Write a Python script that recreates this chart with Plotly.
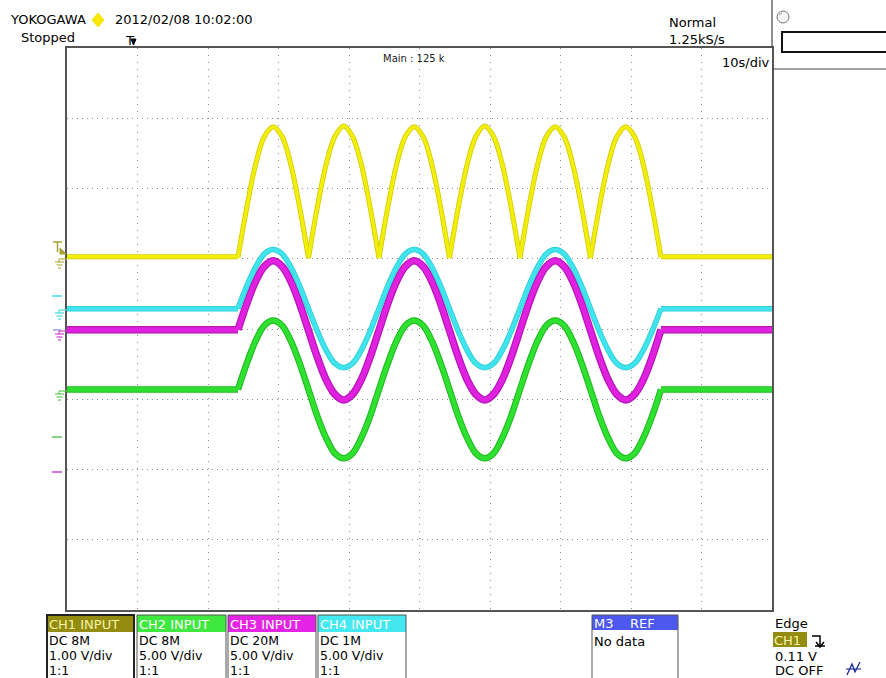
import plotly.graph_objects as go

W, H = 886, 678
L, R, T, B = 67, 772, 48, 610

def px(x):
    return (x - L) / (R - L)

def py(y):
    return (B - y) / (B - T)

# ---------------- data (time in s, value in divisions from centre) ----------------
t_start, t_end = 0.0, 100.0
t_wave = [24.25, 25.5, 26.75, 28.0, 29.25, 30.5, 31.75, 33.0, 34.25, 35.5, 36.75, 38.0,
          39.25, 40.5, 41.75, 43.0, 44.25, 45.5, 46.75, 48.0, 49.25, 50.5, 51.75, 53.0,
          54.25, 55.5, 56.75, 58.0, 59.25, 60.5, 61.75, 63.0, 64.25, 65.5, 66.75, 68.0,
          69.25, 70.5, 71.75, 73.0, 74.25, 75.5, 76.75, 78.0, 79.25, 80.5, 81.75, 83.0, 84.25]

ch1_base = 1.03
ch1_wave = [1.02, 1.73, 2.34, 2.74, 2.88, 2.74, 2.34, 1.73,
            1.01, 1.73, 2.34, 2.74, 2.89, 2.74, 2.34, 1.73,
            1.01, 1.73, 2.34, 2.74, 2.88, 2.74, 2.34, 1.73,
            1.01, 1.73, 2.34, 2.74, 2.89, 2.74, 2.34, 1.73,
            1.01, 1.73, 2.34, 2.74, 2.88, 2.74, 2.34, 1.73,
            1.01, 1.73, 2.34, 2.74, 2.88, 2.74, 2.34, 1.73, 1.02]

ch4_base = 0.29
ch4_wave = [0.29, 0.61, 0.88, 1.07, 1.13, 1.07, 0.88, 0.61,
            0.29, -0.03, -0.30, -0.49, -0.55, -0.49, -0.30, -0.03,
            0.29, 0.61, 0.88, 1.07, 1.13, 1.07, 0.88, 0.61,
            0.29, -0.03, -0.30, -0.49, -0.55, -0.49, -0.30, -0.03,
            0.29, 0.61, 0.88, 1.07, 1.13, 1.07, 0.88, 0.61,
            0.29, -0.03, -0.30, -0.49, -0.55, -0.49, -0.30, -0.03, 0.29]

ch3_base = -0.01
ch3_wave = [-0.01, 0.36, 0.68, 0.89, 0.97, 0.89, 0.68, 0.36,
            -0.02, -0.40, -0.72, -0.93, -1.01, -0.93, -0.72, -0.40,
            -0.02, 0.36, 0.68, 0.89, 0.97, 0.89, 0.68, 0.36,
            -0.02, -0.40, -0.72, -0.93, -1.01, -0.93, -0.72, -0.40,
            -0.02, 0.36, 0.68, 0.89, 0.97, 0.89, 0.68, 0.36,
            -0.02, -0.40, -0.72, -0.93, -1.01, -0.93, -0.72, -0.40, -0.01]

ch2_base = -0.86
ch2_wave = [-0.86, -0.49, -0.17, 0.05, 0.12, 0.05, -0.17, -0.49,
            -0.86, -1.24, -1.55, -1.77, -1.84, -1.77, -1.55, -1.24,
            -0.86, -0.49, -0.17, 0.05, 0.12, 0.05, -0.17, -0.49,
            -0.86, -1.24, -1.55, -1.77, -1.84, -1.77, -1.55, -1.24,
            -0.86, -0.49, -0.17, 0.05, 0.12, 0.05, -0.17, -0.49,
            -0.86, -1.24, -1.55, -1.77, -1.84, -1.77, -1.55, -1.24, -0.86]

ch_labels = ["CH1 INPUT", "CH2 INPUT", "CH3 INPUT", "CH4 INPUT"]
ch_coupling = ["DC 8M", "DC 8M", "DC 20M", "DC 1M"]
ch_vdiv = ["1.00 V/div", "5.00 V/div", "5.00 V/div", "5.00 V/div"]
ch_probe = ["1:1", "1:1", "1:1", "1:1"]

FONT = "DejaVu Sans"

fig = go.Figure()


def add_layers(x, y, under, top, wu, wt):
    fig.add_trace(go.Scatter(x=x, y=y, mode="lines", connectgaps=False,
                             line=dict(color=under, width=wu, shape="spline", smoothing=1),
                             hoverinfo="skip", showlegend=False))
    fig.add_trace(go.Scatter(x=x, y=y, mode="lines", connectgaps=False,
                             line=dict(color=top, width=wt, shape="spline", smoothing=1),
                             hoverinfo="skip", showlegend=False))


def sine_xy(base, wave):
    x = [t_start, t_wave[0], None] + t_wave + [None, t_wave[-1], t_end]
    y = [base, base, None] + wave + [None, base, base]
    return x, y


# CH2 green, CH3 magenta, CH4 cyan
x, y = sine_xy(ch2_base, ch2_wave)
add_layers(x, y, "#1cb81c", "#30e030", 6.5, 4.5)
x, y = sine_xy(ch3_base, ch3_wave)
add_layers(x, y, "#b814b8", "#e022e0", 7.5, 5)
x, y = sine_xy(ch4_base, ch4_wave)
add_layers(x, y, "#2acad4", "#40e4ec", 5.5, 4)

# CH1 yellow (rectified humps, split at each valley)
xs = [t_start, t_wave[0], None]
ys = [ch1_base, ch1_base, None]
for i in range(0, len(t_wave) - 1, 8):
    xs += t_wave[i:i + 9] + [None]
    ys += ch1_wave[i:i + 9] + [None]
xs += [t_wave[-1], t_end]
ys += [ch1_base, ch1_base]
add_layers(xs, ys, "#d2ca00", "#f0ee0a", 5, 3.5)

shapes = []


def line(x0, y0, x1, y1, color="#000", width=1):
    shapes.append(dict(type="line", xref="paper", yref="paper",
                       x0=px(x0), y0=py(y0), x1=px(x1), y1=py(y1),
                       line=dict(color=color, width=width), layer="above"))


def rect(x0, y0, x1, y1, fill=None, color="#000", width=1):
    shapes.append(dict(type="rect", xref="paper", yref="paper",
                       x0=px(x0), y0=py(y0), x1=px(x1), y1=py(y1),
                       fillcolor=fill if fill else "rgba(0,0,0,0)",
                       line=dict(color=color, width=width), layer="above"))


def path(points, color, width=1, fill=None, closed=False):
    d = "M" + " L".join(f"{px(a):.5f},{py(b):.5f}" for a, b in points)
    if closed:
        d += " Z"
    shapes.append(dict(type="path", xref="paper", yref="paper", path=d,
                       fillcolor=fill if fill else "rgba(0,0,0,0)",
                       line=dict(color=color, width=width), layer="above"))


def ground(y0, color):
    line(59, y0, 67, y0, color, 1.2)
    line(59, y0, 59, y0 + 3, color, 1.2)
    line(55, y0 + 3, 64, y0 + 3, color, 1.2)
    line(56.5, y0 + 6, 62.5, y0 + 6, color, 1.2)
    line(58, y0 + 9, 61, y0 + 9, color, 1.2)


# left channel markers
line(53, 242, 62, 242, "#a8a030", 1.5)
line(57.5, 242, 57.5, 252, "#a8a030", 1.5)
path([(60, 248), (66, 254), (60, 254)], "#a8a030", 1, fill="#a8a030", closed=True)
ground(259, "#b8b040")
line(52, 296, 62, 296, "#3ed8e2", 1.5)
ground(310, "#3ed8e2")
line(53, 330, 61, 330, "#8a8ae8", 1.2)
ground(331, "#d040d0")
ground(391, "#5cc85c")
line(52, 437, 62, 437, "#5cc85c", 1.5)
line(52, 472, 62, 472, "#d040d0", 1.5)

# top-right panel
line(772, 0, 772, 48, "#444", 1.2)
line(772, 69, 886, 69, "#444", 1.2)
rect(782, 32, 887, 52, None, "#111", 2)
shapes.append(dict(type="circle", xref="paper", yref="paper",
                   x0=px(777), y0=py(23), x1=px(789), y1=py(11),
                   line=dict(color="#777", width=1), fillcolor="#f4f4f4", layer="above"))
path([(779, 15), (782, 13)], "#999", 1)

# header diamond and trigger position marker
path([(98, 13), (104, 20), (98, 27), (92, 20)], "#f5e400", 1, fill="#f8e800", closed=True)
path([(131, 39), (136, 39), (133.5, 45)], "#000", 1, fill="#000", closed=True)

# bottom channel boxes
header_fill = ["#938c10", "#3ee83e", "#e424e4", "#44e8f0"]
header_text = ["#f6f2a8", "#ffffff", "#ffffff", "#ffffff"]
box_x = [(47, 134), (137, 226), (228, 316), (318, 406)]
for i, (x0, x1) in enumerate(box_x):
    rect(x0, 615, x1, 632, header_fill[i], header_fill[i], 0)
    rect(x0, 615, x1, 690, None, "#222" if i == 0 else "#555", 2 if i == 0 else 1)

rect(592, 615, 678, 630, "#4c58ee", "#4c58ee", 0)
rect(592, 615, 678, 690, None, "#555", 1)

# trigger info box
rect(773, 632, 807, 647, "#938c10", "#938c10", 0)
path([(812, 636), (820, 636), (820, 646)], "#000", 1.5)
path([(816, 642), (820, 647), (824, 642)], "#000", 1.5)
line(815, 646, 825, 646, "#000", 1.5)
path([(847, 675), (852, 664), (855, 672), (860, 662)], "#1a2a9a", 1.3)
line(846, 669, 861, 669, "#1a2a9a", 1.1)

annotations = []


def ann(x, y, text, size=13, color="#000", anchor="left"):
    annotations.append(dict(xref="paper", yref="paper", x=px(x), y=py(y), text=text,
                            showarrow=False, xanchor=anchor, yanchor="middle",
                            borderpad=0,
                            font=dict(family=FONT, size=size, color=color)))


ann(9, 20, "YOKOGAWA", 13)
ann(114, 20, "2012/02/08 10:02:00", 13)
ann(20, 38, "Stopped", 13)
ann(124, 40, "T", 13)
ann(668, 22, "Normal", 13)
ann(668, 39, "1.25kS/s", 13)
ann(414, 58, "Main : 125 k", 10, "#222", "center")
ann(771, 62, "10s/div", 13, "#000", "right")

for i, (x0, x1) in enumerate(box_x):
    ann(x0 + 1, 624, ch_labels[i], 13, header_text[i])
    ann(x0 + 1, 640, ch_coupling[i], 12.5)
    ann(x0 + 1, 655, ch_vdiv[i], 12.5)
    ann(x0 + 1, 670, ch_probe[i], 12.5)

ann(593, 623, "M3 &nbsp; &nbsp;REF", 13, "#ffffff")
ann(593, 641, "No data", 13)

ann(774, 623, "Edge", 13)
ann(773, 640, "CH1", 13, "#f6f2a8")
ann(774, 656, "0.11 V", 13)
ann(774, 670, "DC OFF", 13)

axis_common = dict(showticklabels=False, ticks="", zeroline=False, showline=True,
                   linecolor="#555", linewidth=2, mirror=True, showgrid=True,
                   gridcolor="#8c8c8c", gridwidth=1, fixedrange=True)

fig.update_layout(
    width=W, height=H,
    margin=dict(l=L, r=W - R, t=T, b=H - B, pad=0),
    paper_bgcolor="white", plot_bgcolor="white",
    xaxis=dict(range=[0, 100], dtick=10, tick0=0, griddash="1px,6px", **axis_common),
    yaxis=dict(range=[-4, 4], dtick=1, tick0=0, griddash="1px,4px", **axis_common),
    shapes=shapes, annotations=annotations, showlegend=False,
)

fig.write_html("out.html")
